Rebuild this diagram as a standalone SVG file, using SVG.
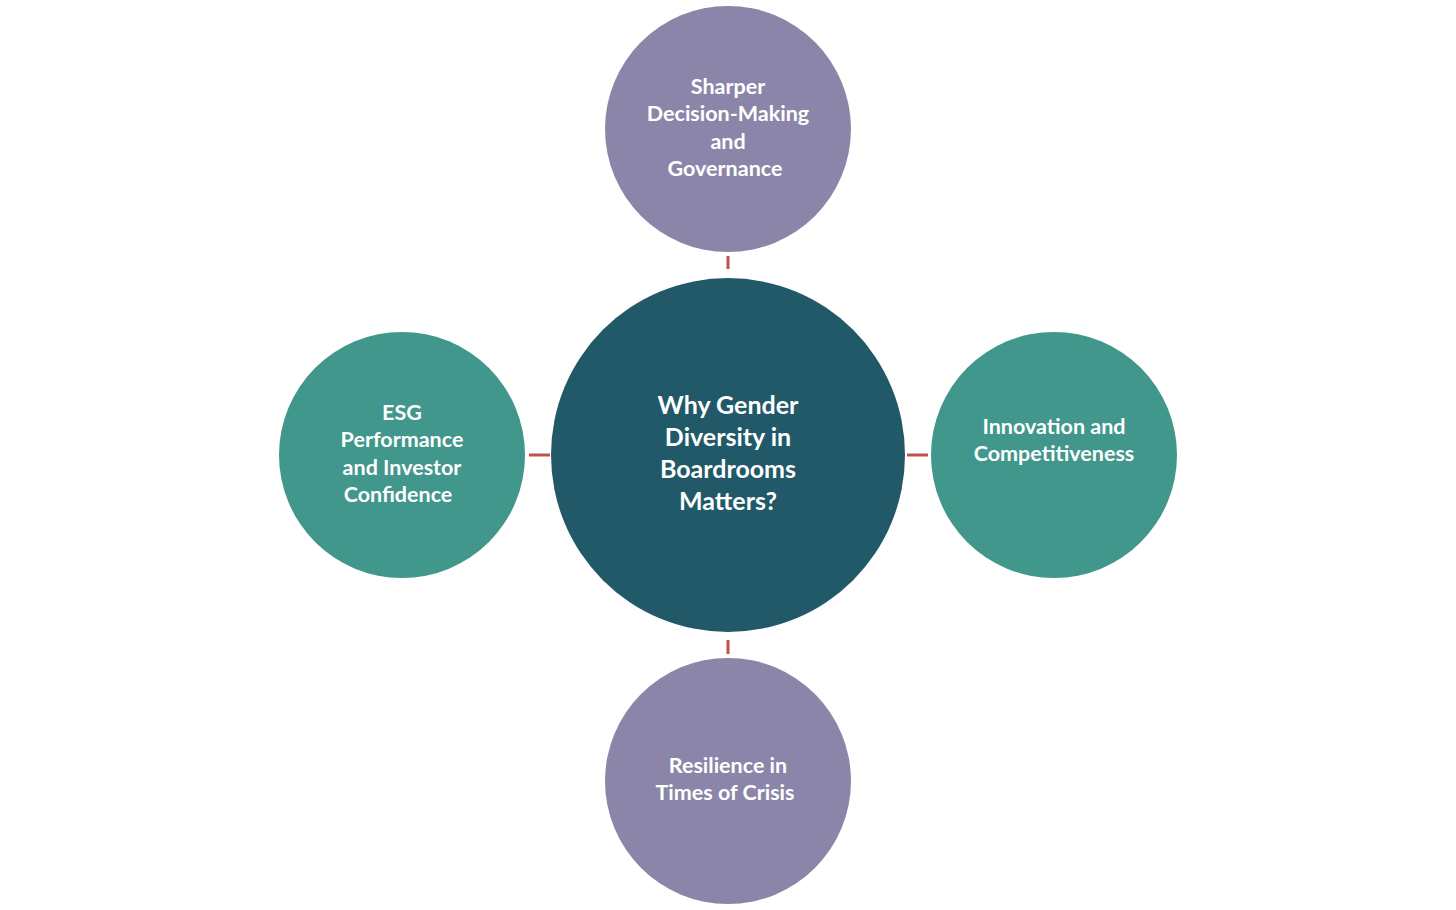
<svg xmlns="http://www.w3.org/2000/svg" width="1456" height="910" viewBox="0 0 1456 910">
<style>
.t{font-family:Lato,"Open Sans","Liberation Sans",sans-serif;font-weight:bold;fill:#fff;text-anchor:middle;font-size:21.5px}
.c{font-size:25px}
.p{fill:#8B86A9}.g{fill:#41978B}.d{fill:#215968}
.l{stroke:#C0504D;stroke-width:3}
</style>
<rect width="1456" height="910" fill="#fff"/>
<g id="connectors">
<line class="l" x1="728" y1="256" x2="728" y2="269"/>
<line class="l" x1="728" y1="640" x2="728" y2="654"/>
<line class="l" x1="529" y1="455" x2="550" y2="455"/>
<line class="l" x1="907" y1="455" x2="928" y2="455"/>
</g>
<g id="center"><circle class="d" cx="728" cy="455" r="177"/>
<text class="t c"><tspan x="728" y="414">Why Gender</tspan><tspan x="728" y="446">Diversity in</tspan><tspan x="728" y="478">Boardrooms</tspan><tspan x="728" y="510">Matters?</tspan></text></g>
<g id="top"><circle class="p" cx="728" cy="129" r="123"/>
<text class="t"><tspan x="728" y="94">Sharper</tspan><tspan x="728" y="121">Decision-Making</tspan><tspan x="728" y="149">and</tspan><tspan x="725" y="176">Governance</tspan></text></g>
<g id="bottom"><circle class="p" cx="728" cy="781" r="123"/>
<text class="t"><tspan x="728" y="773">Resilience in</tspan><tspan x="725" y="800">Times of Crisis</tspan></text></g>
<g id="left"><circle class="g" cx="402" cy="455" r="123"/>
<text class="t"><tspan x="402" y="420">ESG</tspan><tspan x="402" y="447">Performance</tspan><tspan x="402" y="475">and Investor</tspan><tspan x="398" y="502">Confidence</tspan></text></g>
<g id="right"><circle class="g" cx="1054" cy="455" r="123"/>
<text class="t"><tspan x="1054" y="434">Innovation and</tspan><tspan x="1054" y="461">Competitiveness</tspan></text></g>
</svg>
